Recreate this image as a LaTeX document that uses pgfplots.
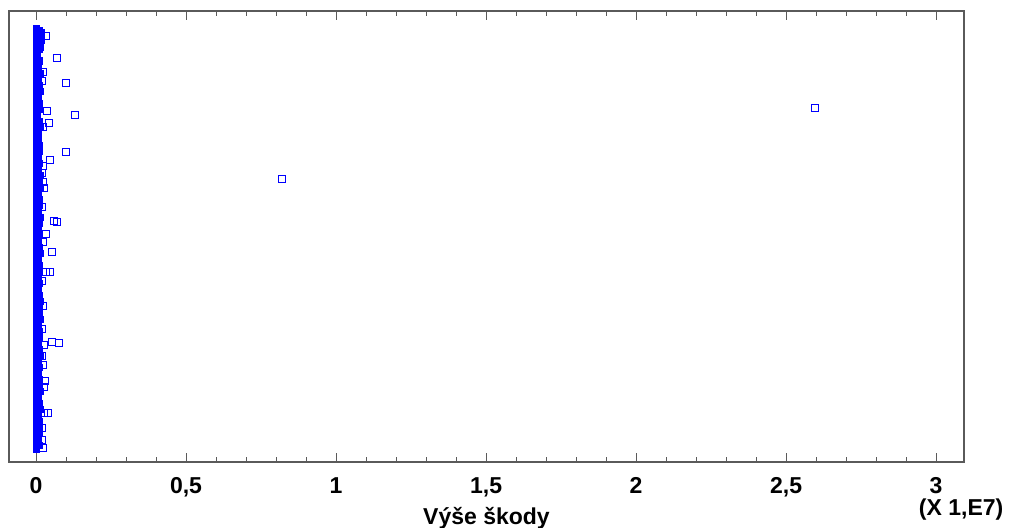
\documentclass[border=0pt]{standalone}
\usepackage{fontspec}
\setmainfont{Liberation Sans}
\usepackage{pgfplots}
\pgfplotsset{compat=1.18}
\definecolor{markblue}{RGB}{0,0,255}
\definecolor{axgray}{RGB}{90,90,90}
\newcommand{\lblfont}{\fontsize{23}{27}\selectfont\bfseries}
\begin{document}
\begin{tikzpicture}
\begin{axis}[
  scale only axis,
  width=955pt, height=451pt,
  xmin=-0.09, xmax=3.093,
  ymin=11, ymax=462, y dir=reverse,
  ytick=\empty,
  xtick={0,0.5,1,1.5,2,2.5,3},
  xticklabels={0,{0,5},1,{1,5},2,{2,5},3},
  minor x tick num=4,
  tick align=inside,
  xtick pos=both,
  major tick length=9pt, minor tick length=5pt,
  every tick/.style={axgray, line width=1pt},
  axis line style={axgray, line width=1.3pt},
  xticklabel style={font=\lblfont, anchor=base, yshift=-31pt, inner sep=0pt},
  clip=false,
]
% dense core of the distribution (values near zero)
\addplot[only marks, mark=square*, mark size=3.3pt, markblue, mark options={fill=markblue, draw=markblue}] coordinates {
(0,29)(0,34)(0,39)(0,44)(0,49)(0,54)(0,59)(0,64)(0,69)(0,74)(0,79)(0,84)(0,89)(0,94)(0,99)
(0,104)(0,109)(0,114)(0,119)(0,124)(0,129)(0,134)(0,139)(0,144)(0,149)(0,154)(0,159)(0,164)
(0,169)(0,174)(0,179)(0,184)(0,189)(0,194)(0,199)(0,204)(0,209)(0,214)(0,219)(0,224)(0,229)
(0,234)(0,239)(0,244)(0,249)(0,254)(0,259)(0,264)(0,269)(0,274)(0,279)(0,284)(0,289)(0,294)
(0,299)(0,304)(0,309)(0,314)(0,319)(0,324)(0,329)(0,334)(0,339)(0,344)(0,349)(0,354)(0,359)
(0,364)(0,369)(0,374)(0,379)(0,384)(0,389)(0,394)(0,399)(0,404)(0,409)(0,414)(0,419)(0,424)
(0,429)(0,434)(0,439)(0,444)(0,449)
(0.010,31)(0.006,37)(0.012,43)(0.008,49)(0.004,55)(0.011,61)(0.007,67)(0.013,73)(0.005,79)
(0.009,85)(0.012,91)(0.006,97)(0.008,103)(0.010,109)(0.004,115)(0.009,121)(0.013,127)
(0.007,133)(0.005,139)(0.010,145)(0.008,151)(0.006,157)(0.011,163)(0.007,169)(0.012,175)
(0.009,181)(0.013,187)(0.006,193)(0.008,199)(0.010,205)(0.005,211)(0.012,217)(0.009,223)
(0.007,229)(0.011,235)(0.006,241)(0.009,247)(0.012,253)(0.005,259)(0.008,265)(0.010,271)
(0.006,277)(0.011,283)(0.007,289)(0.009,295)(0.013,301)(0.008,307)(0.010,313)(0.012,319)
(0.006,325)(0.011,331)(0.009,337)(0.005,343)(0.008,349)(0.012,355)(0.007,361)(0.010,367)
(0.006,373)(0.011,379)(0.008,385)(0.013,391)(0.007,397)(0.009,403)(0.012,409)(0.006,415)
(0.010,421)(0.008,427)(0.011,433)(0.007,439)(0.009,445)
(0.016,33)(0.015,40)(0.014,47)
};
% individual larger values
\addplot[only marks, mark=square, mark size=3.4pt, markblue, mark options={line width=1pt}] coordinates {
(0.033,36)(0.070,58)(0.100,83)(0.037,111)(0.130,115)(0.043,123)(0.023,127)(0.100,152)
(0.047,160)(0.023,72)(0.020,81)(0.023,166)(0.020,173)(0.023,182)(0.027,188)(0.020,207)
(0.060,221)(0.070,222)(0.033,234)(0.023,242)(0.053,252)(0.033,272)(0.047,272)(0.020,281)
(0.023,306)(0.020,329)(0.053,342)(0.077,343)(0.027,345)(0.020,356)(0.023,365)(0.030,381)
(0.027,387)(0.027,413)(0.040,413)(0.020,428)(0.020,440)(0.023,448)
(0.820,179)(2.597,108)
};
\coordinate (bl) at (rel axis cs:0,0);
\coordinate (tr) at (rel axis cs:1,1);
\node[font=\lblfont, anchor=base, inner sep=0pt] at ([yshift=-62pt]axis description cs:0.5,0) {Výše škody};
\node[font=\lblfont, anchor=base, inner sep=0pt] at ([yshift=-53pt]axis description cs:0.997,0) {(X 1,E7)};
\end{axis}
\pgfresetboundingbox
\path[use as bounding box] ([xshift=-9pt,yshift=-65pt]bl) rectangle ([xshift=47pt,yshift=11pt]tr);
\end{tikzpicture}
\end{document}
